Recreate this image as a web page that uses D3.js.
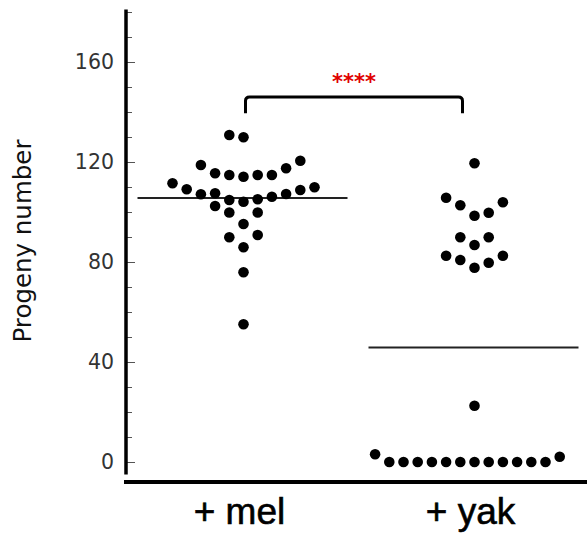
<!DOCTYPE html>
<html>
<head>
<meta charset="utf-8">
<script src="https://cdn.jsdelivr.net/npm/d3@7"></script>
<style>
     body { margin: 0; background: #fff; }
</style>
</head>
<body>
<div id="chart-area"></div>
<script>

// groups and values
var groups = ["+ mel", "+ yak"];

var melValues = [130.8, 129.9,
     118.8, 115.5, 114.8, 114.1, 114.8, 114.8, 117.5, 120.5,
     111.5, 109.1, 107.1, 107.5, 104.8, 104.1, 105.1, 106.1, 107.2, 108.8, 109.9,
     102.4, 99.8, 99.8,
     95.2, 89.9, 90.8, 85.9, 75.9, 55.1];
// beeswarm column of each point (as drawn)
var melCols = [-1, 0,
     -3, -2, -1, 0, 1, 2, 3, 4,
     -5, -4, -3, -2, -1, 0, 1, 2, 3, 4, 5,
     -2, -1, 1,
     0, -1, 1, 0, 0, 0];

var yakValues = [119.5,
     105.7, 102.7, 98.5, 99.7, 103.9,
     89.9, 86.8, 89.9,
     82.5, 80.8, 77.7, 79.7, 82.5,
     22.5,
     3.1, 0, 0, 0, 0, 0, 0, 0, 0, 0, 0, 0, 0, 2.1];
var yakCols = [0,
     -2, -1, 0, 1, 2,
     -1, 0, 1,
     -2, -1, 0, 1, 2,
     0,
     -7, -6, -5, -4, -3, -2, -1, 0, 1, 2, 3, 4, 5, 6];

var majorTicks = [0, 40, 80, 120, 160];
var minorTicks = d3.range(0, 181, 10);
var signif = "****";

var svg = d3.select("#chart-area").append("svg")
     .attr("width", 587)
     .attr("height", 533);

var y = d3.scaleLinear()
     .domain([-5, 181])
     .range([474.5, 9.5]);

var x = d3.scalePoint()
     .domain(groups)
     .range([128, 590])
     .padding(0.5);

var col = d3.scaleLinear()
     .domain([0, 1])
     .range([0, 14.2]);

var dots = [];
melValues.forEach((v, i) => { dots.push({ g: groups[0], v: v, c: melCols[i] }); });
yakValues.forEach((v, i) => { dots.push({ g: groups[1], v: v, c: yakCols[i] }); });

var means = [
     { g: groups[0], v: d3.mean(melValues) },
     { g: groups[1], v: d3.mean(yakValues) }
];

// minor ticks
svg.append("g")
     .attr("transform", "translate(126,0)")
     .call(d3.axisLeft(y).tickValues(minorTicks).tickSizeInner(-6).tickSizeOuter(0).tickFormat(""))
     .call(g => g.select(".domain").remove())
     .call(g => g.selectAll("line").attr("stroke", "#555"));

// major ticks + labels
svg.append("g")
     .attr("transform", "translate(126,0)")
     .call(d3.axisLeft(y).tickValues(majorTicks).tickSizeInner(-9).tickSizeOuter(0).tickPadding(12))
     .call(g => g.select(".domain").remove())
     .call(g => g.selectAll("line").attr("stroke", "#555"))
     .call(g => g.selectAll("text")
          .attr("font-family", "DejaVu Sans")
          .attr("font-size", 20.5)
          .attr("fill", "#333"));

// axis lines
svg.append("line")
     .attr("x1", 126).attr("x2", 126)
     .attr("y1", y(181)).attr("y2", y(-5))
     .attr("stroke", "#000")
     .attr("stroke-width", 3.5);

svg.append("line")
     .attr("x1", 124).attr("x2", 587)
     .attr("y1", 482).attr("y2", 482)
     .attr("stroke", "#000")
     .attr("stroke-width", 4);

svg.append("text")
     .attr("transform", "translate(31,241) rotate(-90)")
     .attr("text-anchor", "middle")
     .attr("font-family", "DejaVu Sans")
     .attr("font-size", 24.5)
     .attr("fill", "#111")
     .text("Progeny number");

svg.selectAll(".xlabel")
     .data(groups)
     .enter()
     .append("text")
     .attr("class", "xlabel")
     .attr("x", (d) => { return x(d) - 4; })
     .attr("y", 524)
     .attr("text-anchor", "middle")
     .attr("font-family", "Liberation Sans")
     .attr("font-size", 37)
     .attr("stroke", "#000")
     .attr("stroke-width", 0.6)
     .attr("fill", "#000")
     .text((d) => { return d; });

// mean lines
svg.selectAll(".mean")
     .data(means)
     .enter()
     .append("line")
     .attr("class", "mean")
     .attr("x1", (d) => { return x(d.g) - 106; })
     .attr("x2", (d) => { return x(d.g) + 104; })
     .attr("y1", (d) => { return y(d.v); })
     .attr("y2", (d) => { return y(d.v); })
     .attr("stroke", "#222")
     .attr("stroke-width", 2);

// points
svg.selectAll("circle")
     .data(dots)
     .enter()
     .append("circle")
     .attr("cx", (d) => { return x(d.g) + col(d.c); })
     .attr("cy", (d) => { return y(d.v); })
     .attr("r", 5.3)
     .attr("fill", "#000");

// significance bracket
var bx0 = x(groups[0]) + 2,
     bx1 = x(groups[1]) - 12,
     bTop = y(146),
     bLeg = y(139.5);

svg.append("path")
     .attr("d", "M" + bx0 + "," + bLeg + "L" + bx0 + "," + (bTop + 4) +
          "Q" + bx0 + "," + bTop + " " + (bx0 + 4) + "," + bTop +
          "L" + (bx1 - 4) + "," + bTop +
          "Q" + bx1 + "," + bTop + " " + bx1 + "," + (bTop + 4) +
          "L" + bx1 + "," + bLeg)
     .attr("fill", "none")
     .attr("stroke", "#000")
     .attr("stroke-width", 3);

svg.append("text")
     .attr("x", (bx0 + bx1) / 2)
     .attr("y", y(146) - 8)
     .attr("text-anchor", "middle")
     .attr("font-family", "DejaVu Sans")
     .attr("font-weight", "bold")
     .attr("font-size", 21)
     .attr("fill", "#e00000")
     .text(signif);

</script>
</body>
</html>
